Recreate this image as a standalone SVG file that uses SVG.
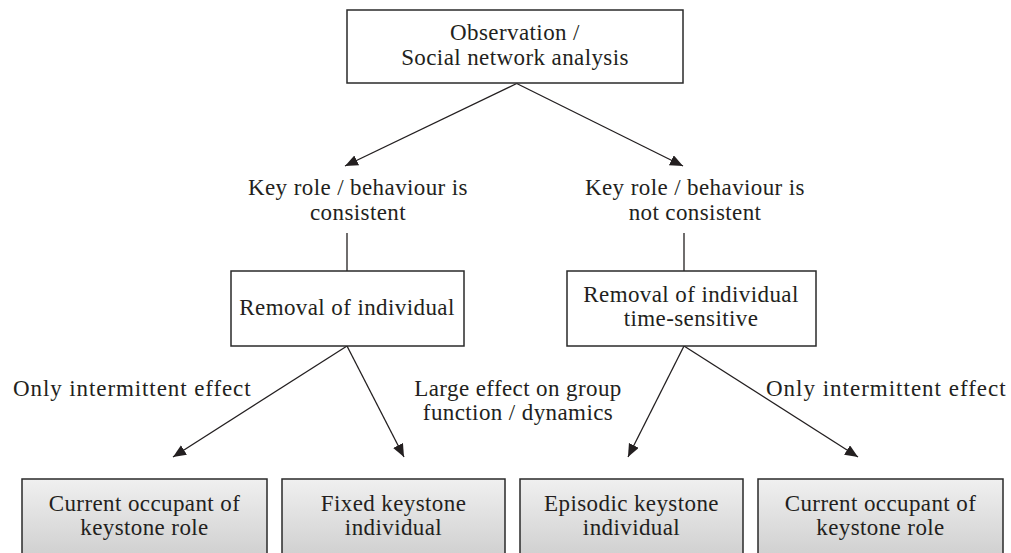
<svg xmlns="http://www.w3.org/2000/svg" width="1011" height="553" viewBox="0 0 1011 553">
<style>
text{font-family:"Liberation Serif","Times New Roman",serif;font-size:23px;fill:#231f20;text-anchor:middle;letter-spacing:0.4px}
.box{fill:#fff;stroke:#2a2a2a;stroke-width:1.5}
.gbox{fill:url(#g);stroke:#2a2a2a;stroke-width:1.5}
.c{stroke:#231f20;stroke-width:1.3;fill:none}
.a{marker-end:url(#ah)}
.st{text-anchor:start}
</style>
<defs>
<linearGradient id="g" x1="0" y1="0" x2="0" y2="1">
<stop offset="0" stop-color="#f0f0f0"/>
<stop offset="1" stop-color="#c2c2c2"/>
</linearGradient>
<marker id="ah" markerUnits="userSpaceOnUse" markerWidth="14" markerHeight="12" refX="13" refY="5.5" orient="auto">
<path d="M0,0 L13,5.5 L0,11 z" fill="#231f20"/>
</marker>
</defs>
<g id="connectors">
<line class="c a" x1="516.7" y1="83.5" x2="345" y2="166"/>
<line class="c a" x1="516.7" y1="83.5" x2="683" y2="166"/>
<line class="c" x1="347" y1="233" x2="347" y2="271"/>
<line class="c" x1="684" y1="233" x2="684" y2="271"/>
<line class="c a" x1="347" y1="346" x2="173" y2="457"/>
<line class="c a" x1="347" y1="346" x2="404" y2="457"/>
<line class="c a" x1="684" y1="346" x2="628" y2="457"/>
<line class="c a" x1="684" y1="346" x2="858" y2="457"/>
</g>
<g id="labels">
<text class="st" x="13" y="396" textLength="238" lengthAdjust="spacing">Only intermittent effect</text>
<text x="518" y="396">Large effect on group</text>
<text x="518" y="420">function / dynamics</text>
<text class="st" x="766" y="396" textLength="240" lengthAdjust="spacing">Only intermittent effect</text>
</g>
<g id="observation">
<rect class="box" x="347" y="10" width="336" height="73"/>
<text x="515" y="40">Observation /</text>
<text x="515" y="65">Social network analysis</text>
</g>
<g id="consistent">
<text x="358" y="195">Key role / behaviour is</text>
<text x="358" y="220">consistent</text>
</g>
<g id="not-consistent">
<text x="695" y="195">Key role / behaviour is</text>
<text x="695" y="220">not consistent</text>
</g>
<g id="removal">
<rect class="box" x="231" y="271" width="233" height="75"/>
<text x="347" y="315">Removal of individual</text>
</g>
<g id="removal-time">
<rect class="box" x="567" y="271" width="249" height="75"/>
<text x="691" y="302">Removal of individual</text>
<text x="691" y="326">time-sensitive</text>
</g>
<g id="current-left">
<rect class="gbox" x="22" y="479" width="245" height="110"/>
<text x="144.5" y="511">Current occupant of</text>
<text x="144.5" y="535">keystone role</text>
</g>
<g id="fixed">
<rect class="gbox" x="282" y="479" width="223" height="110"/>
<text x="393.5" y="511">Fixed keystone</text>
<text x="393.5" y="535">individual</text>
</g>
<g id="episodic">
<rect class="gbox" x="520" y="479" width="223" height="110"/>
<text x="631.5" y="511">Episodic keystone</text>
<text x="631.5" y="535">individual</text>
</g>
<g id="current-right">
<rect class="gbox" x="758" y="479" width="245" height="110"/>
<text x="880.5" y="511">Current occupant of</text>
<text x="880.5" y="535">keystone role</text>
</g>
</svg>
